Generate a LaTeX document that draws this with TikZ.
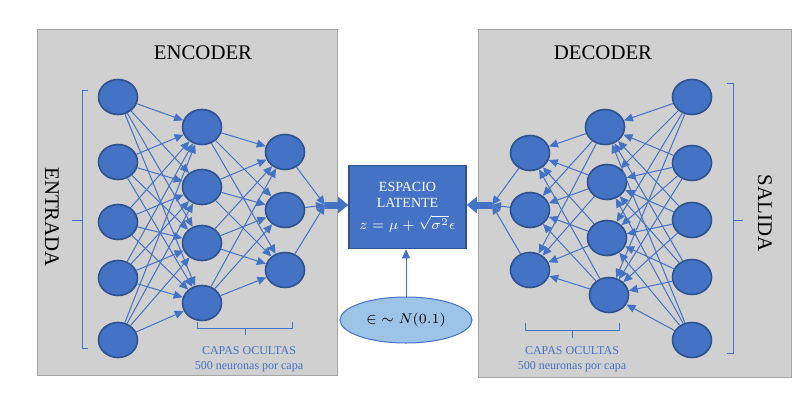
\documentclass[tikz,border=0pt]{standalone}
\usepackage{fontspec}
\setmainfont{Liberation Serif}
\usetikzlibrary{arrows.meta, shapes.geometric}

\definecolor{azul}{RGB}{68,114,196}
\definecolor{azuloscuro}{RGB}{47,82,143}
\definecolor{azulclaro}{RGB}{157,195,230}
\definecolor{fondo}{RGB}{208,208,208}
\definecolor{borde}{RGB}{166,166,166}

\tikzset{
  neurona/.style={ellipse, fill=azul, draw=azuloscuro, line width=0.8pt,
    minimum width=19.5pt, minimum height=17.5pt, inner sep=0pt},
  conexion/.style={azul, line width=0.5pt, -{Triangle[length=4.5pt,width=4pt]}},
  flecha/.style={azul, line width=3.5pt, -{Triangle[length=5pt,width=8pt]}},
  llave/.style={azul, line width=0.5pt},
  panel/.style={fill=fondo, draw=borde, line width=0.5pt},
  titulo/.style={font=\fontsize{10.4}{12}\selectfont, inner sep=0pt},
  nota/.style={text=azul, font=\fontsize{6}{7.3}\selectfont, align=center, inner sep=0pt},
  latente/.style={rectangle, fill=azul, draw=azuloscuro, line width=0.8pt, text=white,
    minimum width=58.5pt, minimum height=41.5pt, align=center,
    font=\fontsize{7}{8}\selectfont},
  ruido/.style={ellipse, fill=azulclaro, draw=azul, line width=0.5pt,
    minimum width=66pt, minimum height=23pt, font=\fontsize{7}{8}\selectfont}
}

\begin{document}
\begin{tikzpicture}[x=0.5pt, y=-0.5pt]
\useasboundingbox (0,0) rectangle (809,413);

% paneles
\draw[panel] (37,29) rectangle (337,375);
\draw[panel] (478,29) rectangle (791,377);
\node[titulo] (enc) at (203,53) {ENCODER};
\node[titulo] (dec) at (603,53) {DECODER};

% encoder
\foreach \y [count=\i] in {97,162,222,278,340}
  \node[neurona] (in-\i) at (118,\y) {};
\foreach \y [count=\i] in {127,187,243,303}
  \node[neurona] (h1-\i) at (202,\y) {};
\foreach \y [count=\i] in {152,210,270}
  \node[neurona] (h2-\i) at (285,\y) {};

% decoder
\foreach \y [count=\i] in {153,210,270}
  \node[neurona] (d1-\i) at (530,\y) {};
\foreach \x/\y [count=\i] in {605/127,607/182,607/238,609/295}
  \node[neurona] (d2-\i) at (\x,\y) {};
\foreach \y [count=\i] in {97,163,220,277,340}
  \node[neurona] (out-\i) at (692,\y) {};

% espacio latente
\node[latente] (lat) at (407.5,207) {ESPACIO\\LATENTE\\[3pt]$z=\mu+\sqrt{\sigma^2}\epsilon$};
\node[ruido] (eps) at (406,320) {${\in}\sim N(0.1)$};
\coordinate (encOut) at (325,205);
\coordinate (decIn) at (492,205);

\foreach \i in {1,...,5}
  \foreach \j in {1,...,4}
    \draw[conexion] (in-\i) -- (h1-\j);
\foreach \i in {1,...,4}
  \foreach \j in {1,...,3}
    \draw[conexion] (h1-\i) -- (h2-\j);
\foreach \j in {1,...,3}
  \draw[conexion] (h2-\j) -- (encOut);
\draw[flecha] (encOut) -- (encOut -| lat.west);

\foreach \i in {1,...,5}
  \foreach \j in {1,...,4}
    \draw[conexion] (out-\i) -- (d2-\j);
\foreach \i in {1,...,4}
  \foreach \j in {1,...,3}
    \draw[conexion] (d2-\i) -- (d1-\j);
\foreach \j in {1,...,3}
  \draw[conexion] (d1-\j) -- (decIn);
\draw[flecha] (decIn) -- (decIn -| lat.east);

\draw[conexion] (eps) -- (eps |- lat.south);

% llaves
\draw[llave] (88,90) -- (82,90) -- (82,348) -- (88,348);
\draw[llave] (82,220) -- (72,220);
\node[titulo, rotate=-90] (entrada) at (52,217) {ENTRADA};

\draw[llave] (727,83) -- (733,83) -- (733,353) -- (727,353);
\draw[llave] (733,220) -- (743,220);
\node[titulo, rotate=-90] (salida) at (765,213) {SALIDA};

\draw[llave] (197,322) -- (197,328) -- (292,328) -- (292,322);
\draw[llave] (245,328) -- (245,335);
\node[nota] (capasEnc) at (249,359) {CAPAS OCULTAS\\500 neuronas por capa};

\draw[llave] (525,323) -- (525,330) -- (619,330) -- (619,323);
\draw[llave] (572,330) -- (572,338);
\node[nota] (capasDec) at (572,359) {CAPAS OCULTAS\\500 neuronas por capa};
\end{tikzpicture}
\end{document}
